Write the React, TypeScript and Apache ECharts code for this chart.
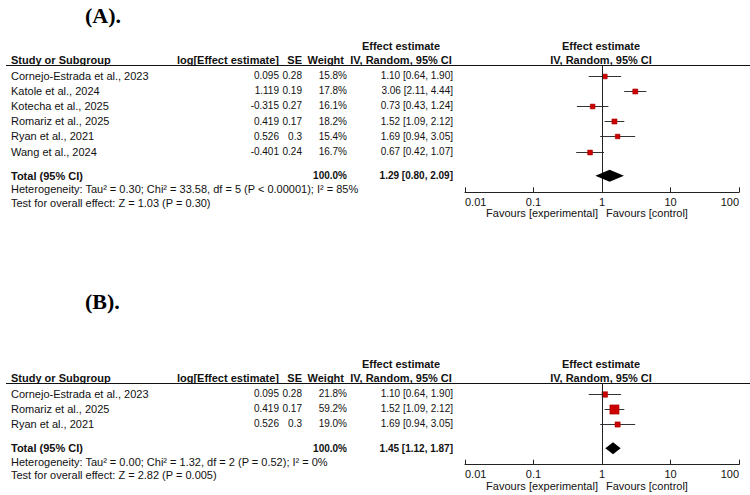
import React, { useEffect, useRef } from "react";
import * as echarts from "echarts";

// ---------- data ----------
const titleA = "(A).";
const studiesA = [
  "Cornejo-Estrada et al., 2023",
  "Katole et al., 2024",
  "Kotecha et al., 2025",
  "Romariz et al., 2025",
  "Ryan et al., 2021",
  "Wang et al., 2024",
];
const logEstA = ["0.095", "1.119", "-0.315", "0.419", "0.526", "-0.401"];
const seA = ["0.28", "0.19", "0.27", "0.17", "0.3", "0.24"];
const weightA = [15.8, 17.8, 16.1, 18.2, 15.4, 16.7];
const estA = [1.1, 3.06, 0.73, 1.52, 1.69, 0.67];
const lowA = [0.64, 2.11, 0.43, 1.09, 0.94, 0.42];
const highA = [1.9, 4.44, 1.24, 2.12, 3.05, 1.07];
const totalA = [1.29, 0.8, 2.09];
const hetA = "Heterogeneity: Tau² = 0.30; Chi² = 33.58, df = 5 (P < 0.00001); I² = 85%";
const testA = "Test for overall effect: Z = 1.03 (P = 0.30)";

const titleB = "(B).";
const studiesB = ["Cornejo-Estrada et al., 2023", "Romariz et al., 2025", "Ryan et al., 2021"];
const logEstB = ["0.095", "0.419", "0.526"];
const seB = ["0.28", "0.17", "0.3"];
const weightB = [21.8, 59.2, 19.0];
const estB = [1.1, 1.52, 1.69];
const lowB = [0.64, 1.09, 0.94];
const highB = [1.9, 2.12, 3.05];
const totalB = [1.45, 1.12, 1.87];
const hetB = "Heterogeneity: Tau² = 0.00; Chi² = 1.32, df = 2 (P = 0.52); I² = 0%";
const testB = "Test for overall effect: Z = 2.82 (P = 0.005)";

const tickValues = [0.01, 0.1, 1, 10, 100];
const tickLabels = ["0.01", "0.1", "1", "10", "100"];
const favLeft = "Favours [experimental]";
const favRight = "Favours [control]";
const totalLabel = "Total (95% CI)";
const totalWeight = "100.0%";
const hdrStudy = "Study or Subgroup";
const hdrLog = "log[Effect estimate]";
const hdrSE = "SE";
const hdrWeight = "Weight";
const hdrEffect1 = "Effect estimate";
const hdrEffect2 = "IV, Random, 95% CI";

// ---------- layout ----------
const W = 750;
const H = 495;
const ROW_H = 15.2;
const FIRST_ROW = 10;
const AXIS_GAP = 16.5;
const TOTAL_GAP = 0.6;
const PLOT_LEFT = 465;
const PLOT_RIGHT = 739;
const X_NAME = 11;
const X_LOG = 279;
const X_SE = 302;
const X_WH = 344;
const X_WV = 347;
const X_CI = 453;
const X_CI_HDR = 401;
const X_PLOT_HDR = 601;
const FONT = '"Liberation Sans", Arial, sans-serif';
const F = `11px ${FONT}`;
const FN = `10px ${FONT}`;
const FB = `bold 11px ${FONT}`;
const FBN = `bold 10px ${FONT}`;
const TXT = "#111";

const panels = [
  {
    title: titleA, titleY: 15, lineY: 65.5,
    studies: studiesA, logEst: logEstA, se: seA, weight: weightA,
    est: estA, low: lowA, high: highA, total: totalA, het: hetA, test: testA,
  },
  {
    title: titleB, titleY: 301, lineY: 383.5,
    studies: studiesB, logEst: logEstB, se: seB, weight: weightB,
    est: estB, low: lowB, high: highB, total: totalB, het: hetB, test: testB,
  },
];

const ciText = (e: number, l: number, h: number) =>
  `${e.toFixed(2)} [${l.toFixed(2)}, ${h.toFixed(2)}]`;

function txt(text: string, x: number, y: number, font: string, align: string = "left") {
  return {
    type: "text",
    x,
    y,
    silent: true,
    style: {
      text,
      font,
      fill: TXT,
      align,
      verticalAlign: "middle",
      textAlign: align,
      textVerticalAlign: "middle",
    },
  };
}

function buildOption() {
  const grids: any[] = [];
  const xAxes: any[] = [];
  const yAxes: any[] = [];
  const series: any[] = [];
  const graphics: any[] = [];

  panels.forEach((p, pi) => {
    const n = p.studies.length;
    const minIdx = -FIRST_ROW / ROW_H;
    const totalIdx = n + TOTAL_GAP;
    const maxIdx = totalIdx + AXIS_GAP / ROW_H;
    const height = (maxIdx - minIdx) * ROW_H;
    const totalY = p.lineY + FIRST_ROW + totalIdx * ROW_H;
    const axisY = p.lineY + height;

    grids.push({ left: PLOT_LEFT, width: PLOT_RIGHT - PLOT_LEFT, top: p.lineY, height });
    xAxes.push({
      type: "log",
      logBase: 10,
      gridIndex: pi,
      position: "bottom",
      min: tickValues[0],
      max: tickValues[tickValues.length - 1],
      axisLine: { show: true, onZero: false, lineStyle: { color: "#222", width: 1 } },
      axisTick: { show: true, inside: true, length: 5, lineStyle: { color: "#222", width: 1 } },
      splitLine: { show: false },
      minorTick: { show: false },
      axisLabel: {
        show: true,
        color: TXT,
        fontSize: 11,
        fontFamily: FONT,
        margin: 4,
        alignMinLabel: "left",
        alignMaxLabel: "right",
        formatter: (v: number) => {
          let best = 0;
          tickValues.forEach((t, i) => {
            if (Math.abs(Math.log10(t) - Math.log10(v)) < Math.abs(Math.log10(tickValues[best]) - Math.log10(v))) best = i;
          });
          return tickLabels[best];
        },
      },
    });
    yAxes.push({
      type: "value",
      gridIndex: pi,
      inverse: true,
      min: minIdx,
      max: maxIdx,
      show: false,
    });

    // study rows: CI lines, squares and table text
    series.push({
      type: "custom",
      xAxisIndex: pi,
      yAxisIndex: pi,
      clip: false,
      silent: true,
      data: p.studies.map((_, i) => [p.est[i], p.low[i], p.high[i], i, p.weight[i]]),
      renderItem: (params: any, api: any) => {
        const i = params.dataIndex;
        const row = api.value(3);
        const c = api.coord([api.value(0), row]);
        const l = api.coord([api.value(1), row]);
        const h = api.coord([api.value(2), row]);
        const y = Math.round(c[1]) + 0.5;
        const side = 1.2 * Math.sqrt(api.value(4));
        return {
          type: "group",
          children: [
            { type: "line", shape: { x1: l[0], y1: y, x2: h[0], y2: y }, style: { stroke: "#333", lineWidth: 1 } },
            {
              type: "rect",
              shape: { x: c[0] - side / 2, y: y - side / 2, width: side, height: side },
              style: { fill: "#CC0000", stroke: "#A00000", lineWidth: 0.5 },
            },
            txt(p.studies[i], X_NAME, c[1], F, "left"),
            txt(p.logEst[i], X_LOG, c[1], FN, "right"),
            txt(p.se[i], X_SE, c[1], FN, "right"),
            txt(p.weight[i].toFixed(1) + "%", X_WV, c[1], FN, "right"),
            txt(ciText(p.est[i], p.low[i], p.high[i]), X_CI, c[1], FN, "right"),
          ],
        };
      },
    });

    // total row: diamond, null line and text
    series.push({
      type: "custom",
      xAxisIndex: pi,
      yAxisIndex: pi,
      clip: false,
      silent: true,
      data: [[p.total[0], p.total[1], p.total[2], totalIdx]],
      renderItem: (_params: any, api: any) => {
        const row = api.value(3);
        const c = api.coord([api.value(0), row]);
        const l = api.coord([api.value(1), row]);
        const h = api.coord([api.value(2), row]);
        const top = api.coord([1, minIdx]);
        const bot = api.coord([1, maxIdx]);
        const vx = Math.round(top[0]) + 0.5;
        const hh = 6;
        return {
          type: "group",
          children: [
            { type: "line", shape: { x1: vx, y1: top[1], x2: vx, y2: bot[1] }, style: { stroke: "#222", lineWidth: 1 } },
            {
              type: "polygon",
              shape: { points: [[l[0], c[1]], [c[0], c[1] - hh], [h[0], c[1]], [c[0], c[1] + hh]] },
              style: { fill: "#000" },
            },
            txt(totalLabel, X_NAME, c[1], FB, "left"),
            txt(totalWeight, X_WV, c[1], FBN, "right"),
            txt(ciText(p.total[0], p.total[1], p.total[2]), X_CI, c[1], FBN, "right"),
          ],
        };
      },
    });

    // headers, title, footnotes
    graphics.push({
      type: "text",
      x: 85,
      y: p.titleY,
      silent: true,
      style: {
        text: p.title,
        font: 'bold 22px "Liberation Serif", "Times New Roman", serif',
        fill: "#000",
        align: "left",
        verticalAlign: "middle",
        textAlign: "left",
        textVerticalAlign: "middle",
      },
    });
    graphics.push({
      type: "line",
      silent: true,
      shape: { x1: 6, y1: p.lineY, x2: W, y2: p.lineY },
      style: { stroke: "#111", lineWidth: 1 },
    });
    const h1 = p.lineY - 20;
    const h2 = p.lineY - 6;
    graphics.push(txt(hdrEffect1, X_CI_HDR, h1, FB, "center"));
    graphics.push(txt(hdrEffect1, X_PLOT_HDR, h1, FB, "center"));
    graphics.push(txt(hdrStudy, X_NAME, h2, FB, "left"));
    graphics.push(txt(hdrLog, X_LOG, h2, FB, "right"));
    graphics.push(txt(hdrSE, X_SE, h2, FB, "right"));
    graphics.push(txt(hdrWeight, X_WH, h2, FB, "right"));
    graphics.push(txt(hdrEffect2, X_CI_HDR, h2, FB, "center"));
    graphics.push(txt(hdrEffect2, X_PLOT_HDR, h2, FB, "center"));
    graphics.push(txt(p.het, X_NAME, totalY + 13.5, F, "left"));
    graphics.push(txt(p.test, X_NAME, totalY + 27, F, "left"));
    graphics.push(txt(favLeft, 598, axisY + 21, F, "right"));
    graphics.push(txt(favRight, 606, axisY + 21, F, "left"));
  });

  return {
    animation: false,
    backgroundColor: "#fff",
    textStyle: { fontFamily: FONT },
    grid: grids,
    xAxis: xAxes,
    yAxis: yAxes,
    series,
    graphic: graphics,
  };
}

export default function App() {
  const ref = useRef<HTMLDivElement>(null);
  useEffect(() => {
    if (!ref.current) return;
    const chart = echarts.init(ref.current, undefined, { renderer: "svg", width: W, height: H });
    chart.setOption(buildOption() as any);
    return () => chart.dispose();
  }, []);
  return (
    <div
      ref={ref}
      style={{ position: "absolute", left: 0, top: 0, width: W, height: H, background: "#fff" }}
    />
  );
}
